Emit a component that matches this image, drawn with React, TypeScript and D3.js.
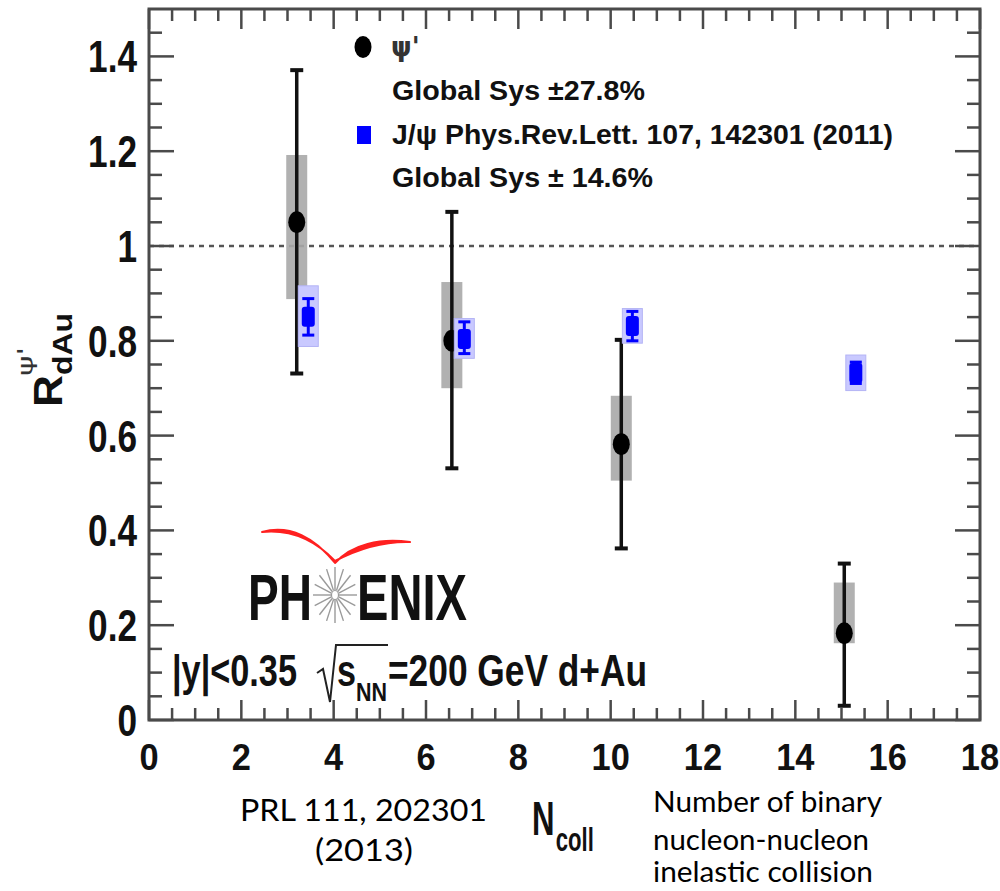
import React from "react";
import * as d3 from "d3";

// ψ' data (PHENIX)
const psiX = [3.2, 6.56, 10.23, 15.06];
const psiY = [1.05, 0.8, 0.582, 0.183];
const psiStatLo = [0.731, 0.531, 0.362, 0.03];
const psiStatHi = [1.371, 1.072, 0.802, 0.33];
const psiSysLo = [0.888, 0.7, 0.505, 0.162];
const psiSysHi = [1.192, 0.924, 0.684, 0.29];

// J/ψ data (PRL 107, 142301)
const jpsiX = [3.45, 6.83, 10.47, 15.31];
const jpsiY = [0.851, 0.804, 0.831, 0.732];
const jpsiStatLo = [0.812, 0.773, 0.8, 0.71];
const jpsiStatHi = [0.889, 0.84, 0.862, 0.755];
const jpsiSysLo = [0.788, 0.763, 0.795, 0.695];
const jpsiSysHi = [0.916, 0.847, 0.868, 0.77];

const xTicks = [0, 2, 4, 6, 8, 10, 12, 14, 16, 18];
const yTicks = [0, 0.2, 0.4, 0.6, 0.8, 1, 1.2, 1.4];

const W = 1000;
const H = 891;
const L = 149, R = 980, T = 9, B = 720;

export default function App() {
  const x = d3.scaleLinear().domain([0, 18]).range([L, R]);
  const y = d3.scaleLinear().domain([0, 1.5]).range([B, T]);
  const fmt = d3.format("~g");
  const xMinor = d3.range(0, 18.001, 0.5).filter((v) => Math.abs(v / 2 - Math.round(v / 2)) > 1e-6);
  const yMinor = d3.range(0, 1.5, 0.05).filter((v) => Math.abs(v / 0.2 - Math.round(v / 0.2)) > 1e-6);
  const axisCol = "#4a4a4a";
  const root = "'Liberation Sans', Arial, Helvetica, sans-serif";
  const cal = "Lato, 'Open Sans', sans-serif";

  const spokes = d3.range(16).map((i) => (i * Math.PI * 2) / 16);

  return (
    <svg width={W} height={H} viewBox={`0 0 ${W} ${H}`} style={{ position: "absolute", left: 0, top: 0, background: "#fff" }}>
      <rect x={0} y={0} width={W} height={H} fill="#fff" />

      <line x1={x(0)} x2={x(18)} y1={y(1)} y2={y(1)} stroke="#555" strokeWidth={2.5} strokeDasharray="5 5" />

      <rect x={L} y={T} width={R - L} height={B - T} fill="none" stroke={axisCol} strokeWidth={3} />

      {xTicks.map((v) => (
        <g key={"xt" + v}>
          <line x1={x(v)} x2={x(v)} y1={B} y2={B - 20} stroke={axisCol} strokeWidth={2.5} />
          <line x1={x(v)} x2={x(v)} y1={T} y2={T + 20} stroke={axisCol} strokeWidth={2.5} />
        </g>
      ))}
      {xMinor.map((v) => (
        <g key={"xm" + v}>
          <line x1={x(v)} x2={x(v)} y1={B} y2={B - 12} stroke={axisCol} strokeWidth={2.5} />
          <line x1={x(v)} x2={x(v)} y1={T} y2={T + 12} stroke={axisCol} strokeWidth={2.5} />
        </g>
      ))}
      {yTicks.map((v) => (
        <g key={"yt" + v}>
          <line x1={L} x2={L + 25} y1={y(v)} y2={y(v)} stroke={axisCol} strokeWidth={2.5} />
          <line x1={R} x2={R - 25} y1={y(v)} y2={y(v)} stroke={axisCol} strokeWidth={2.5} />
        </g>
      ))}
      {yMinor.map((v) => (
        <g key={"ym" + v}>
          <line x1={L} x2={L + 13} y1={y(v)} y2={y(v)} stroke={axisCol} strokeWidth={2.5} />
          <line x1={R} x2={R - 13} y1={y(v)} y2={y(v)} stroke={axisCol} strokeWidth={2.5} />
        </g>
      ))}

      {yTicks.map((v) => (
        <text key={"yl" + v} transform={`translate(137, ${y(v) + 16}) scale(0.8, 1)`} textAnchor="end"
          fontFamily={root} fontWeight="bold" fontSize={44} fill="#111">{fmt(v)}</text>
      ))}
      {xTicks.map((v) => (
        <text key={"xl" + v} transform={`translate(${x(v)}, 770) scale(0.93, 1)`} textAnchor="middle"
          fontFamily={root} fontWeight="bold" fontSize={37} fill="#111">{fmt(v)}</text>
      ))}

      {psiX.map((v, i) => (
        <rect key={"ps" + i} x={x(v) - 10.5} width={21} y={y(psiSysHi[i])} height={y(psiSysLo[i]) - y(psiSysHi[i])}
          fill="#a8a8a8" fillOpacity={0.9} />
      ))}
      {psiX.map((v, i) => (
        <g key={"pe" + i} stroke="#111">
          <line x1={x(v)} x2={x(v)} y1={y(psiStatHi[i])} y2={y(psiStatLo[i])} strokeWidth={3.5} />
          <line x1={x(v) - 6.5} x2={x(v) + 6.5} y1={y(psiStatHi[i])} y2={y(psiStatHi[i])} strokeWidth={4} />
          <line x1={x(v) - 6.5} x2={x(v) + 6.5} y1={y(psiStatLo[i])} y2={y(psiStatLo[i])} strokeWidth={4} />
        </g>
      ))}
      {psiX.map((v, i) => (
        <ellipse key={"pm" + i} cx={x(v)} cy={y(psiY[i])} rx={8.5} ry={11} fill="#000" />
      ))}

      {jpsiX.map((v, i) => (
        <rect key={"js" + i} x={x(v) - 10} width={20} y={y(jpsiSysHi[i])} height={y(jpsiSysLo[i]) - y(jpsiSysHi[i])}
          fill="#c9c9ff" stroke="#b4b4f5" strokeWidth={1} />
      ))}
      {jpsiX.map((v, i) => (
        <g key={"je" + i} stroke="#0000ff">
          <line x1={x(v)} x2={x(v)} y1={y(jpsiStatHi[i])} y2={y(jpsiStatLo[i])} strokeWidth={3} />
          <line x1={x(v) - 6} x2={x(v) + 6} y1={y(jpsiStatHi[i])} y2={y(jpsiStatHi[i])} strokeWidth={3} />
          <line x1={x(v) - 6} x2={x(v) + 6} y1={y(jpsiStatLo[i])} y2={y(jpsiStatLo[i])} strokeWidth={3} />
        </g>
      ))}
      {jpsiX.map((v, i) => (
        <rect key={"jm" + i} x={x(v) - 6.5} y={y(jpsiY[i]) - 10} width={13} height={20} rx={3} fill="#0000ff" />
      ))}

      {/* legend */}
      <ellipse cx={363} cy={47} rx={8.5} ry={11} fill="#000" />
      <text x={391} y={56} fontFamily="'DejaVu Sans', sans-serif" fontWeight="bold" fontSize={26} fill="#333">ψ'</text>
      <text x={392} y={100} fontFamily={root} fontWeight="bold" fontSize={28} fill="#111" textLength={253} lengthAdjust="spacingAndGlyphs">Global Sys ±27.8%</text>
      <rect x={357} y={126} width={14} height={18} fill="#0000ff" />
      <text x={392} y={144} fontFamily={root} fontWeight="bold" fontSize={28} fill="#111" textLength={501} lengthAdjust="spacingAndGlyphs">J/ψ Phys.Rev.Lett. 107, 142301 (2011)</text>
      <text x={392} y={187} fontFamily={root} fontWeight="bold" fontSize={28} fill="#111" textLength={261} lengthAdjust="spacingAndGlyphs">Global Sys ± 14.6%</text>

      {/* PHENIX logo */}
      <path d="M262,532 C290,524 315,538 335,563 C352,544 380,538 410,542 C380,541 356,550 335,561 C316,541 292,529 262,532 Z"
        fill="#ff2020" stroke="#ff2020" strokeWidth={2} strokeLinejoin="round" />
      <text x={248} y={620} fontFamily={root} fontWeight="bold" fontSize={64} fill="#111" textLength={64} lengthAdjust="spacingAndGlyphs">PH</text>
      <text x={357} y={620} fontFamily={root} fontWeight="bold" fontSize={64} fill="#111" textLength={110} lengthAdjust="spacingAndGlyphs">ENIX</text>
      <g stroke="#9a9a9a" strokeWidth={1.4}>
        {spokes.map((a, i) => (
          <line key={"sp" + i} x1={335 + 4 * Math.cos(a)} y1={595 + 5 * Math.sin(a)} x2={335 + 22 * Math.cos(a)} y2={595 + 28 * Math.sin(a)} />
        ))}
      </g>
      <ellipse cx={335} cy={595} rx={3.5} ry={4.5} fill="none" stroke="#9a9a9a" strokeWidth={1.2} />

      {/* kinematic text */}
      <text x={172} y={686} fontFamily={root} fontWeight="bold" fontSize={44} fill="#111" textLength={125} lengthAdjust="spacingAndGlyphs">|y|&lt;0.35</text>
      <path d="M317,673 L323,669 L330,702 L336,645 L388,645" fill="none" stroke="#222" strokeWidth={2} />
      <text x={337} y={686} fontFamily={root} fontWeight="bold" fontSize={44} fill="#111" textLength={19} lengthAdjust="spacingAndGlyphs">s</text>
      <text x={356} y={701} fontFamily={root} fontWeight="bold" fontSize={26} fill="#111" textLength={31} lengthAdjust="spacingAndGlyphs">NN</text>
      <text x={388} y={686} fontFamily={root} fontWeight="bold" fontSize={44} fill="#111" textLength={259} lengthAdjust="spacingAndGlyphs">=200 GeV d+Au</text>

      {/* y-axis title */}
      <text transform="translate(62, 407) rotate(-90)" fontFamily={root} fontWeight="bold" fontSize={40} fill="#111" textLength={32} lengthAdjust="spacingAndGlyphs">R</text>
      <text transform="translate(72, 375) rotate(-90)" fontFamily={root} fontWeight="bold" fontSize={28} fill="#111" textLength={62} lengthAdjust="spacingAndGlyphs">dAu</text>
      <text transform="translate(33, 376) rotate(-90)" fontFamily="'DejaVu Sans', sans-serif" fontSize={22} fill="#333" textLength={29} lengthAdjust="spacingAndGlyphs">ψ'</text>

      {/* x-axis title as one text with subscript */}
      <text transform="translate(532, 835) scale(0.65, 1)" fontFamily={root} fontWeight="bold" fontSize={48} fill="#111">
        N<tspan fontSize={34} dx={2} dy={16}>coll</tspan>
      </text>

      {/* annotations below */}
      <text x={240} y={821} fontFamily={cal} fontSize={31} fill="#000" textLength={247} lengthAdjust="spacingAndGlyphs">PRL 111, 202301</text>
      <text x={315} y={861} fontFamily={cal} fontSize={31} fill="#000" textLength={98} lengthAdjust="spacingAndGlyphs">(2013)</text>
      <text x={653} y={812} fontFamily={cal} fontSize={29} fill="#000" textLength={229} lengthAdjust="spacingAndGlyphs">Number of binary</text>
      <text x={653} y={850} fontFamily={cal} fontSize={29} fill="#000" textLength={216} lengthAdjust="spacingAndGlyphs">nucleon-nucleon</text>
      <text x={653} y={882} fontFamily={cal} fontSize={29} fill="#000" textLength={220} lengthAdjust="spacingAndGlyphs">inelastic collision</text>
    </svg>
  );
}
